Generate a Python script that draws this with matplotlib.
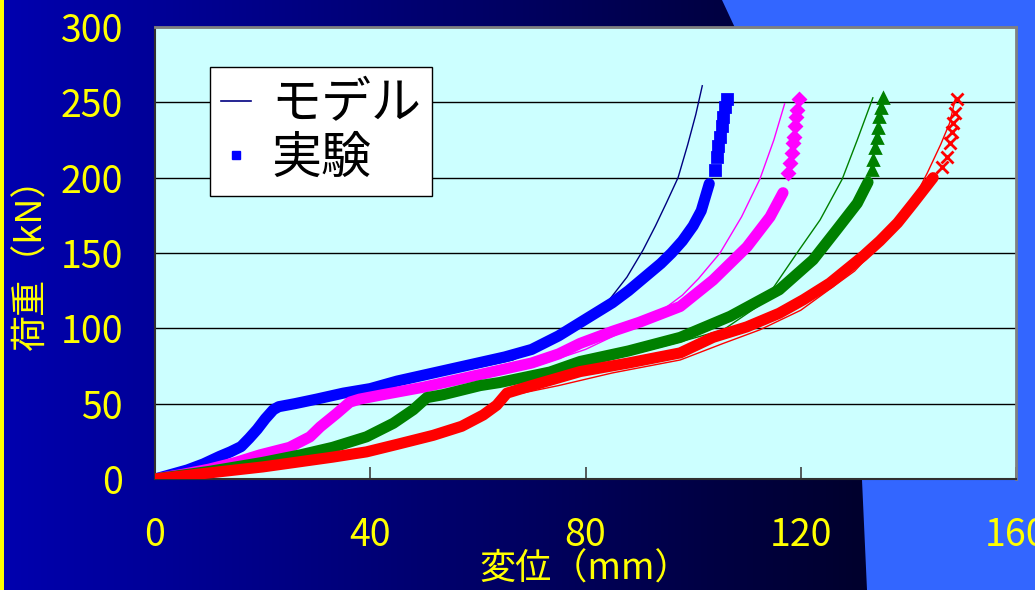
import numpy as np
import matplotlib
matplotlib.use("Agg")
import matplotlib.pyplot as plt
from matplotlib.lines import Line2D
from matplotlib.patches import Polygon

plt.rcParams['font.family'] = ['Noto Sans CJK JP', 'DejaVu Sans']

# displacement (mm) / load (kN), four specimens: model curve + test data
x1m = [0, 5, 10, 14, 17, 19, 21, 22.5, 25, 30, 40, 50, 60, 66.5, 72, 77, 81, 84, 87.7, 90.7, 93, 95, 97.2, 99, 100.5, 101.7]
y1m = [0, 5, 11, 18, 25, 33, 42, 47, 49, 52, 59, 67, 74, 79, 88, 98, 106, 117, 134, 152, 168, 183, 200, 222, 242, 261]
x1e = [0, 3, 6, 9, 12, 14, 16, 17.5, 19, 20.5, 22, 23, 26, 30, 35, 40, 45, 50, 55, 60, 65, 70, 75, 80, 85, 88, 91, 94,
       96, 98, 100, 101.5, 103, 104, 104.4, 104.7, 105, 105.4, 105.6, 105.9, 106.3]
y1e = [0, 3, 6, 10, 15, 18, 21.5, 27, 33, 40, 46, 48, 50, 53, 57, 60, 65, 69, 73, 77, 81, 86, 95, 106, 117, 125, 134, 143,
       150, 158, 168, 178, 196, 205, 214, 221, 227, 234, 240, 247, 252]

x2m = [0, 10, 20, 28, 33, 36, 40, 50, 60, 70, 80, 90, 95, 98, 101, 105, 109, 112.4, 115, 117]
y2m = [0, 6.5, 16, 27, 42, 50, 53, 59, 67, 74, 86, 103, 114, 122, 133, 150, 174, 199, 225, 249]
x2e = [0, 5, 10, 15, 19.5, 25, 28.8, 30.7, 33.8, 36.2, 38, 42.4, 50, 55, 60, 65, 70, 75, 79, 85, 90, 97.6, 103.7, 110,
       114.3, 116.7, 117.7, 118, 118.3, 118.6, 118.8, 119, 119.1, 119.3, 119.7]
y2e = [0, 3, 6.5, 11, 16, 21, 28, 34.6, 43.6, 51, 53, 56, 61, 65, 69, 73, 77, 83, 90, 98, 104, 114.5, 132, 154,
       174, 190, 203, 210, 216.6, 223, 227, 234, 240, 245, 252]

x3m = [0, 10, 20, 30, 40, 46, 50.5, 54, 60, 70, 80, 90, 97.6, 105.6, 113, 119.3, 123.6, 127.7, 130.5, 133.4]
y3m = [0, 5, 10.5, 18, 30, 41, 53, 55, 59, 67, 75, 84, 91, 99, 117, 150, 172, 199, 225, 253]
x3e = [0, 5, 10, 15, 20, 27, 33, 39.3, 44.3, 48, 50.5, 53.6, 60.4, 64, 73.4, 79, 88, 97.6, 106.9, 116, 122.3, 126.7,
       130.5, 132.5, 133.2, 133.4, 133.8, 134.2, 134.4, 134.6, 134.9, 135.3]
y3e = [0, 2.5, 5, 8, 11, 16, 21, 28, 37, 46, 54, 56, 62, 64, 71, 78, 85, 94, 108, 125.6, 145.5, 165.5,
       183, 197, 205, 212, 220, 226.6, 233, 240, 246, 253]

x4m = [0, 10, 20, 30, 40, 50, 58, 63, 65.5, 75, 85, 97.6, 105.6, 112.4, 120, 130, 135, 140.9, 143.5, 146, 147.7, 148.7]
y4m = [0, 3.5, 7.5, 12, 17.5, 26, 37, 48, 55, 62, 70.4, 79, 90, 99, 112, 138, 157, 185, 203, 222, 236.5, 252]
x4e = [0, 5, 10, 15, 20, 27, 33, 39.3, 45, 51.7, 57, 61, 63.5, 65.4, 70, 79, 88, 97.6, 103.7, 110, 116, 120.5, 125.4,
       131.6, 134.7, 138, 140.9, 144.6, 146.2, 147.2, 147.7, 148.1, 148.3, 148.7, 149]
y4e = [0, 2, 4, 6, 8, 11.5, 14.5, 18, 23, 29, 35, 42.5, 49, 57, 62, 71.3, 77, 83.7, 94, 101, 110, 119, 130,
       148, 158, 170, 183, 200, 207, 214, 223, 230, 236.5, 243, 252]

models = [(x1m, y1m), (x2m, y2m), (x3m, y3m), (x4m, y4m)]
tests = [(x1e, y1e), (x2e, y2e), (x3e, y3e), (x4e, y4e)]
model_colors = ["#000080", "#FF00FF", "#008000", "#FF0000"]
test_colors = ["#0000FF", "#FF00FF", "#008000", "#FF0000"]
markers = ["s", "D", "^", "x"]
msizes = [7.5, 6, 7.5, 8]

xticks = [0, 40, 80, 120, 160]
yticks = [0, 50, 100, 150, 200, 250, 300]

W, H = 1035, 590
fig = plt.figure(figsize=(W / 100, H / 100), dpi=100)

# slide background: dark blue gradient, light blue band on the right, yellow edge
bg = fig.add_axes([0, 0, 1, 1])
bg.set_xlim(0, W)
bg.set_ylim(H, 0)
bg.axis("off")
t = np.clip(np.linspace(0, W, 400) / 860, 0, 1)
grad = np.zeros((2, 400, 3))
grad[:, :, 2] = (175 - 130 * t) / 255
bg.imshow(grad, extent=[0, W, H, 0], aspect="auto")
bg.add_patch(Polygon([(722, 0), (736, 30), (790, 150), (840, 320), (862, 480), (867, H), (W, H), (W, 0)],
                     closed=True, facecolor="#3366FF", edgecolor="none"))
bg.add_patch(Polygon([(0, 0), (4, 0), (4, H), (0, H)], closed=True, facecolor="#FFFF00", edgecolor="none"))

ax = fig.add_axes([155 / W, 1 - 479 / H, (1016 - 155) / W, (479 - 27) / H])
ax.set_facecolor("#CCFFFF")

for (xm, ym), c in zip(models, model_colors):
    ax.plot(xm, ym, color=c, lw=1.0, zorder=2)

# dense part of each test record shows as a thick band, the sparse top as single markers
for (xe, ye), c, m, ms in zip(tests, test_colors, markers, msizes):
    xe = np.array(xe)
    ye = np.array(ye)
    dense = ye <= 200
    ax.plot(xe[dense], ye[dense], color=c, lw=8, solid_capstyle="round", solid_joinstyle="round", zorder=3)
    ax.plot(xe[~dense], ye[~dense], ls="none", marker=m, ms=ms, color=c, mew=2, zorder=3)

ax.set_xlim(0, 160)
ax.set_ylim(0, 300)
ax.set_xticks(xticks)
ax.set_yticks(yticks)
ax.yaxis.grid(True, color="black", lw=1)
ax.set_axisbelow(True)
ax.tick_params(direction="in", length=9, width=1.2, color="#404040", labelcolor="#FFFF00", labelsize=27)
ax.tick_params(axis="x", pad=27)
ax.tick_params(axis="y", pad=23, length=0)
for s in ["left", "bottom"]:
    ax.spines[s].set_color("#303030")
    ax.spines[s].set_linewidth(1.5)
for s in ["top", "right"]:
    ax.spines[s].set_color("#808080")
    ax.spines[s].set_linewidth(2)

fig.text(32 / W, 1 - 255 / H, "荷重（kN）", rotation=90, ha="center", va="center", color="#FFFF00", fontsize=26)
fig.text(585 / W, 1 - 570 / H, "変位（mm）", ha="center", va="center", color="#FFFF00", fontsize=26)

handles = [Line2D([], [], color="#000080", lw=1.2),
           Line2D([], [], ls="none", marker="s", ms=6, color="#0000FF")]
leg = ax.legend(handles, ["モデル", "実験"], loc="upper left", bbox_to_anchor=((210 - 155) / 861, (479 - 67) / 452),
                fontsize=36, frameon=True, fancybox=False, framealpha=1, edgecolor="black",
                handlelength=0.6, handletextpad=0.4, borderpad=0.22, labelspacing=0.05, borderaxespad=0)
leg.get_frame().set_linewidth(1)

fig.savefig("out.png", dpi=100)
